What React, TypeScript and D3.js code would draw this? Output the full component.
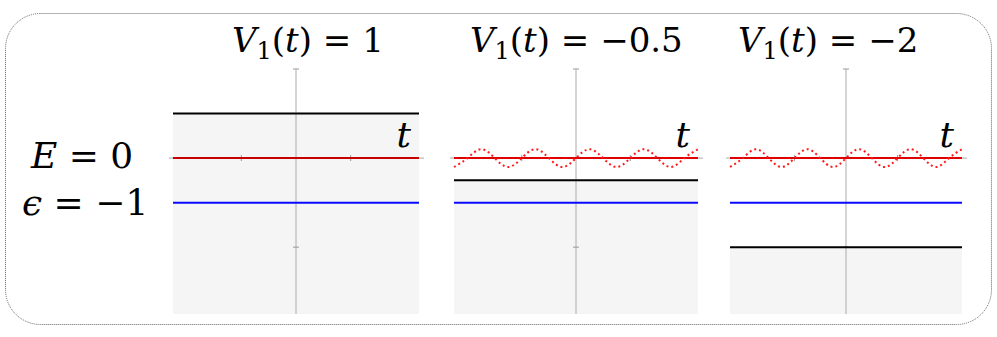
import React, { useEffect } from 'react'
import { scaleLinear, line, curveNatural } from 'd3'

// panel data
const potentials = [1, -0.5, -2]
const titleValues = ['1', '\u22120.5', '\u22122']
const showWave = [false, true, true]
const energyColor = ['#c80000', '#e00000', '#e00000']
const energy = 0
const epsilon = -1
const xTicks = [-1, 1]
const yTicks = [-2, 2]
const xDomain = [-2.25, 2.25]
const yDomain = [2, -3.5]

// dotted wave (peaks / crossings every quarter period)
const waveT = [-2.25, -2, -1.75, -1.5, -1.25, -1, -0.75, -0.5, -0.25, 0, 0.25, 0.5, 0.75, 1, 1.25, 1.5, 1.75, 2, 2.25]
const waveV = [-0.2, 0, 0.2, 0, -0.2, 0, 0.2, 0, -0.2, 0, 0.2, 0, -0.2, 0, 0.2, 0, -0.2, 0, 0.2]

const panels = [
  { left: 173, right: 419, titleX: 232 },
  { left: 454, right: 698, titleX: 470 },
  { left: 730, right: 962, titleX: 738 },
]

const FONT = '"DejaVu Serif", "Liberation Serif", serif'

function Panel({ i }) {
  const p = panels[i]
  const x = scaleLinear().domain(xDomain).range([p.left, p.right])
  const y = scaleLinear().domain(yDomain).range([69, 314])
  const V = potentials[i]
  const wave = line()
    .x((d) => x(d[0]))
    .y((d) => y(d[1]))
    .curve(curveNatural)
  const wavePts = waveT.map((t, k) => [t, energy + waveV[k]])
  return (
    <g>
      <rect
        x={p.left}
        y={y(V)}
        width={p.right - p.left}
        height={y(yDomain[1]) - y(V)}
        fill="#f5f5f5"
      />
      {/* axes */}
      <line x1={p.left - 4} x2={p.right + 5} y1={y(0)} y2={y(0)} stroke="#aaa" strokeWidth={1} />
      <line x1={x(0)} x2={x(0)} y1={y(yDomain[0])} y2={y(yDomain[1])} stroke="#aaa" strokeWidth={1} />
      {xTicks.map((t) => (
        <line key={'xt' + t} x1={x(t)} x2={x(t)} y1={y(0) - 3} y2={y(0) + 3} stroke="#999" />
      ))}
      {yTicks.map((t) => (
        <line key={'yt' + t} x1={x(0) - 3} x2={x(0) + 3} y1={y(t)} y2={y(t)} stroke="#999" />
      ))}
      {/* levels */}
      <line x1={p.left} x2={p.right} y1={y(V)} y2={y(V)} stroke="#000" strokeWidth={2} />
      <line x1={p.left} x2={p.right} y1={y(epsilon)} y2={y(epsilon)} stroke="#0a0aff" strokeWidth={2} />
      <line x1={p.left} x2={p.right} y1={y(energy)} y2={y(energy)} stroke={energyColor[i]} strokeWidth={2} />
      {showWave[i] && (
        <path d={wave(wavePts)} fill="none" stroke="#ff1a1a" strokeWidth={2} strokeDasharray="2 3" />
      )}
      <text
        x={p.right - 8}
        y={147}
        textAnchor="end"
        style={{ fontFamily: FONT, fontStyle: 'italic', fontSize: 36 }}
      >
        t
      </text>
      <text x={p.titleX} y={52} style={{ fontFamily: FONT, fontSize: 34 }}>
        <tspan style={{ fontStyle: 'italic' }}>V</tspan>
        <tspan style={{ fontSize: 24 }} dy={7}>1</tspan>
        <tspan dy={-7}>(</tspan>
        <tspan style={{ fontStyle: 'italic' }}>t</tspan>
        <tspan>{') = ' + titleValues[i]}</tspan>
      </text>
    </g>
  )
}

export default function App() {
  useEffect(() => {
    document.body.style.margin = '0'
  }, [])
  return (
    <svg width={997} height={337} style={{ display: 'block', background: '#fff' }}>
      <rect
        x={5.5}
        y={13.5}
        width={986}
        height={311}
        rx={35}
        ry={35}
        fill="none"
        stroke="#666"
        strokeWidth={1}
        strokeDasharray="1 1"
      />
      <text x={31} y={168} style={{ fontFamily: FONT, fontSize: 36 }}>
        <tspan style={{ fontStyle: 'italic' }}>E</tspan>
        <tspan>{' = 0'}</tspan>
      </text>
      <text x={22} y={215} style={{ fontFamily: FONT, fontSize: 36 }}>
        <tspan style={{ fontStyle: 'italic' }}>{'\u03f5'}</tspan>
        <tspan>{' = \u22121'}</tspan>
      </text>
      {panels.map((p, i) => (
        <Panel key={i} i={i} />
      ))}
    </svg>
  )
}
